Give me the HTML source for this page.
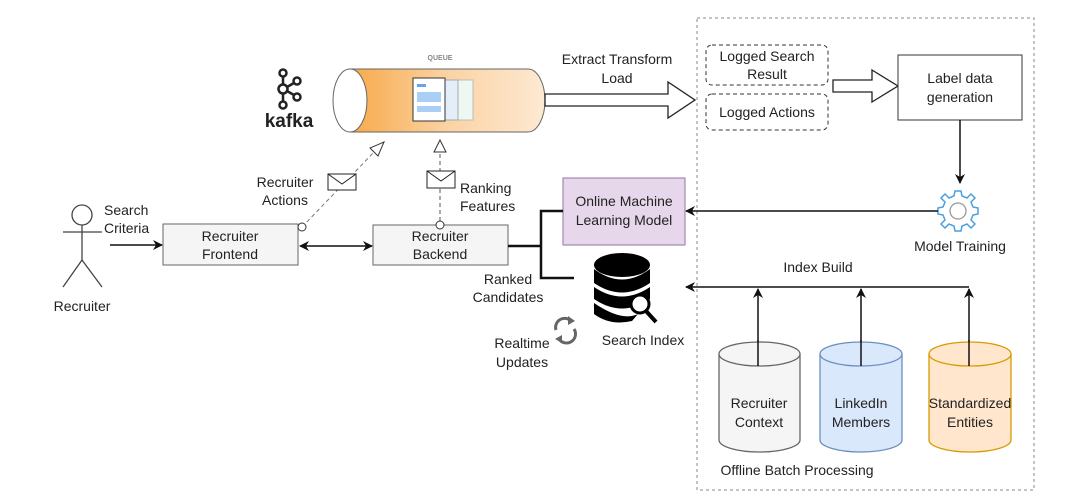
<!DOCTYPE html>
<html><head><meta charset="utf-8"><style>
html,body{margin:0;padding:0;background:#fff;}
svg{display:block;font-family:"Liberation Sans",Arial,sans-serif;}
text{font-size:14px;fill:#222;}
</style></head><body>
<svg width="1080" height="500" viewBox="0 0 1080 500" xmlns="http://www.w3.org/2000/svg">
<defs>
<linearGradient id="og" x1="0" y1="0" x2="1" y2="0">
<stop offset="0" stop-color="#f7a94a"/><stop offset="0.5" stop-color="#fbd3a3"/><stop offset="1" stop-color="#fde9d3"/>
</linearGradient>
<marker id="ah" markerWidth="10" markerHeight="10" refX="9" refY="5" orient="auto" markerUnits="userSpaceOnUse">
<path d="M0,0 L10,5 L0,10 L3,5 Z" fill="#111"/></marker>
<marker id="ahs" markerWidth="10" markerHeight="10" refX="1" refY="5" orient="auto" markerUnits="userSpaceOnUse">
<path d="M10,0 L0,5 L10,10 L7,5 Z" fill="#111"/></marker>
</defs>

<rect x="697" y="18" width="337" height="472" fill="none" stroke="#888" stroke-dasharray="3,3"/>

<g stroke="#444" stroke-width="1.3" fill="none">
<circle cx="82" cy="215" r="10" fill="#fff"/>
<line x1="82" y1="225" x2="82" y2="260"/>
<line x1="63" y1="232" x2="102" y2="232"/>
<line x1="82" y1="260" x2="63" y2="287"/>
<line x1="82" y1="260" x2="102" y2="287"/>
</g>
<text x="82" y="311" text-anchor="middle">Recruiter</text>
<text x="104" y="215">Search</text>
<text x="104" y="233">Criteria</text>
<line x1="110" y1="245" x2="162" y2="245" stroke="#111" stroke-width="1.5" marker-end="url(#ah)"/>

<rect x="163" y="224" width="135" height="41" fill="#f5f5f5" stroke="#666"/>
<text x="230" y="241" text-anchor="middle">Recruiter</text>
<text x="230" y="259" text-anchor="middle">Frontend</text>
<rect x="373" y="225" width="135" height="40" fill="#f5f5f5" stroke="#666"/>
<text x="440" y="241" text-anchor="middle">Recruiter</text>
<text x="440" y="259" text-anchor="middle">Backend</text>
<line x1="300" y1="246" x2="372" y2="246" stroke="#111" stroke-width="1.5" marker-end="url(#ah)" marker-start="url(#ahs)"/>

<line x1="302" y1="227" x2="376" y2="150" stroke="#777" stroke-dasharray="4,3"/>
<polygon points="384,142 370,148 378,156" fill="#fff" stroke="#333"/>
<circle cx="302" cy="227" r="4" fill="#fff" stroke="#333"/>
<rect x="328" y="174" width="28" height="16" fill="#fff" stroke="#222"/>
<polyline points="328,174 342,184 356,174" fill="none" stroke="#222"/>
<text x="285" y="187" text-anchor="middle">Recruiter</text>
<text x="285" y="205" text-anchor="middle">Actions</text>

<line x1="440" y1="221" x2="440" y2="152" stroke="#555" stroke-dasharray="4,3"/>
<polygon points="440,140 434,152 446,152" fill="#fff" stroke="#333"/>
<circle cx="440" cy="225" r="4" fill="#fff" stroke="#333"/>
<rect x="427" y="171" width="28" height="17" fill="#fff" stroke="#222"/>
<polyline points="427,171 441,181 455,171" fill="none" stroke="#222"/>
<text x="460" y="193">Ranking</text>
<text x="460" y="211">Features</text>

<text x="440" y="60" text-anchor="middle" style="font-size:7px;fill:#888;font-weight:bold">QUEUE</text>
<path d="M350,69 L528,69 A17,31.5 0 0 1 528,132 L350,132 Z" fill="url(#og)" stroke="#666"/>
<ellipse cx="350" cy="100.5" rx="17" ry="31.5" fill="#fff" stroke="#666"/>
<g>
<rect x="443" y="80" width="30" height="40" fill="#eef8f3" stroke="#bbb"/>
<rect x="428" y="80" width="30" height="40" fill="#e3eefa" stroke="#aaa"/>
<rect x="413" y="78" width="32" height="43" fill="#fff" stroke="#333"/>
<rect x="417" y="92" width="24" height="10" fill="#a9cff4"/>
<rect x="417" y="106" width="24" height="6" fill="#a9cff4"/>
<rect x="417" y="84" width="9" height="3" fill="#6aa3e6"/>
</g>

<g stroke="#222" stroke-width="2.5" fill="none">
<circle cx="283" cy="73" r="3.5"/><circle cx="283" cy="89" r="4.5"/><circle cx="283" cy="105" r="3.5"/>
<circle cx="297" cy="81" r="3.5"/><circle cx="297" cy="97" r="3.5"/>
<line x1="283" y1="77" x2="283" y2="84"/><line x1="283" y1="94" x2="283" y2="101"/><line x1="287" y1="87" x2="294" y2="83"/><line x1="287" y1="91" x2="294" y2="95"/>
</g>
<text x="289" y="127" text-anchor="middle" style="font-size:19px;font-weight:bold;fill:#222">kafka</text>

<polygon points="545,94 668,94 668,82 695,100 668,118 668,106 545,106" fill="#fff" stroke="#222" stroke-width="1.3"/>
<text x="617" y="64" text-anchor="middle">Extract Transform</text>
<text x="617" y="83" text-anchor="middle">Load</text>

<rect x="706" y="45" width="122" height="40" rx="6" fill="#fff" stroke="#333" stroke-dasharray="4,3"/>
<text x="767" y="61" text-anchor="middle">Logged Search</text>
<text x="767" y="79" text-anchor="middle">Result</text>
<rect x="706" y="94" width="122" height="36" rx="6" fill="#fff" stroke="#333" stroke-dasharray="4,3"/>
<text x="767" y="117" text-anchor="middle">Logged Actions</text>
<polygon points="833,80 872,80 872,70 898,86 872,102 872,92 833,92" fill="#fff" stroke="#222" stroke-width="1.3"/>
<rect x="898" y="55" width="124" height="65" fill="#fff" stroke="#333"/>
<text x="960" y="83" text-anchor="middle">Label data</text>
<text x="960" y="102" text-anchor="middle">generation</text>
<line x1="960" y1="120" x2="960" y2="183" stroke="#111" stroke-width="1.5" marker-end="url(#ah)"/>

<g transform="translate(958,211)">
<path d="M-3,-20 L3,-20 L4,-15 L9,-13 L13,-17 L17,-13 L13,-9 L15,-4 L20,-3 L20,3 L15,4 L13,9 L17,13 L13,17 L9,13 L4,15 L3,20 L-3,20 L-4,15 L-9,13 L-13,17 L-17,13 L-13,9 L-15,4 L-20,3 L-20,-3 L-15,-4 L-13,-9 L-17,-13 L-13,-17 L-9,-13 L-4,-15 Z" fill="#fff" stroke="#4a9fe0" stroke-width="1.5"/>
<circle r="8" fill="#fff" stroke="#999" stroke-width="1.3"/>
</g>
<text x="960" y="251" text-anchor="middle">Model Training</text>
<line x1="938" y1="211" x2="686" y2="211" stroke="#111" stroke-width="1.5" marker-end="url(#ah)"/>

<rect x="563" y="178" width="122" height="67" fill="#e6d7ea" stroke="#9673a6"/>
<text x="624" y="206" text-anchor="middle">Online Machine</text>
<text x="624" y="225" text-anchor="middle">Learning Model</text>

<polyline points="508,246 541,246" fill="none" stroke="#111" stroke-width="2.5"/>
<polyline points="563,211 541,211 541,278 574,278" fill="none" stroke="#111" stroke-width="2.5"/>
<text x="508" y="284" text-anchor="middle">Ranked</text>
<text x="508" y="302" text-anchor="middle">Candidates</text>

<g fill="#000">
<ellipse cx="622" cy="265" rx="28" ry="12"/>
<path d="M594,269 Q622,290 650,269 L650,283 Q622,302 594,283 Z"/>
<path d="M594,287 Q622,306 650,287 L650,299 Q622,318 594,299 Z"/>
<path d="M594,303 Q622,322 638,314 L632,321 Q610,326 594,314 Z"/>
</g>
<circle cx="640" cy="304" r="9" fill="#fff" stroke="#000" stroke-width="3"/>
<line x1="646" y1="311" x2="656" y2="322" stroke="#000" stroke-width="4"/>
<text x="643" y="345" text-anchor="middle">Search Index</text>
<g fill="none" stroke="#666" stroke-width="3">
<path d="M556,330 A9,9 0 0 1 571,321"/>
<path d="M574,329 A9,9 0 0 1 559,339"/>
</g>
<polygon points="568,316 575,321 568,325" fill="#666"/>
<polygon points="562,335 555,339 562,343" fill="#666"/>
<text x="522" y="348" text-anchor="middle">Realtime</text>
<text x="522" y="367" text-anchor="middle">Updates</text>

<text x="818" y="272" text-anchor="middle">Index Build</text>
<line x1="969" y1="287" x2="686" y2="287" stroke="#111" stroke-width="1.5" marker-end="url(#ah)"/>
<line x1="758" y1="355" x2="758" y2="289" stroke="#111" stroke-width="1.5" marker-end="url(#ah)"/>
<line x1="861" y1="355" x2="861" y2="289" stroke="#111" stroke-width="1.5" marker-end="url(#ah)"/>
<line x1="969" y1="355" x2="969" y2="289" stroke="#111" stroke-width="1.5" marker-end="url(#ah)"/>

<g stroke-width="1.3">
<path d="M719,354 L719,440 A40.5,12 0 0 0 800,440 L800,354" fill="#f5f5f5" stroke="#666"/>
<ellipse cx="759.5" cy="354" rx="40.5" ry="12" fill="#f5f5f5" stroke="#666"/>
<path d="M820,354 L820,440 A41,12 0 0 0 902,440 L902,354" fill="#dae8fc" stroke="#6c8ebf"/>
<ellipse cx="861" cy="354" rx="41" ry="12" fill="#dae8fc" stroke="#6c8ebf"/>
<path d="M929,354 L929,440 A41,12 0 0 0 1011,440 L1011,354" fill="#ffe6cc" stroke="#d79b00"/>
<ellipse cx="970" cy="354" rx="41" ry="12" fill="#ffe6cc" stroke="#d79b00"/>
</g>
<line x1="758" y1="340" x2="758" y2="366" stroke="#111" stroke-width="1.5"/>
<line x1="861" y1="340" x2="861" y2="366" stroke="#111" stroke-width="1.5"/>
<line x1="969" y1="340" x2="969" y2="366" stroke="#111" stroke-width="1.5"/>
<text x="759" y="408" text-anchor="middle">Recruiter</text>
<text x="759" y="427" text-anchor="middle">Context</text>
<text x="861" y="408" text-anchor="middle">LinkedIn</text>
<text x="861" y="427" text-anchor="middle">Members</text>
<text x="970" y="408" text-anchor="middle">Standardized</text>
<text x="970" y="427" text-anchor="middle">Entities</text>
<text x="797" y="475" text-anchor="middle">Offline Batch Processing</text>
</svg>
</body></html>
